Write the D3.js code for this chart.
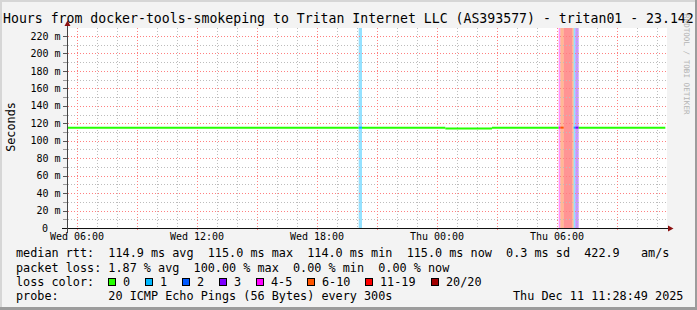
<!DOCTYPE html>
<html>
<head>
<meta charset="utf-8">
<script src="https://cdn.jsdelivr.net/npm/d3@7"></script>
<style>
  html, body { margin: 0; padding: 0; background: #f3f3f3; }
  svg { display: block; }
  text { font-family: "DejaVu Sans Mono", monospace; white-space: pre; }
</style>
</head>
<body>
<div id="chart"></div>
<script>
// Segments of the median rtt line (5 minute steps merged), times are local
const segStart  = ["2025-12-10T05:30", "2025-12-10T20:05", "2025-12-10T20:15", "2025-12-11T00:25", "2025-12-11T02:45",
                   "2025-12-11T06:05", "2025-12-11T06:10", "2025-12-11T06:20", "2025-12-11T06:45", "2025-12-11T06:50",
                   "2025-12-11T06:55", "2025-12-11T07:05"];
const segEnd    = ["2025-12-10T20:05", "2025-12-10T20:15", "2025-12-11T00:25", "2025-12-11T02:45", "2025-12-11T06:05",
                   "2025-12-11T06:10", "2025-12-11T06:20", "2025-12-11T06:45", "2025-12-11T06:50", "2025-12-11T06:55",
                   "2025-12-11T07:05", "2025-12-11T11:25"];
const segMedian = [115.0, 115.0, 115.0, 114.0, 115.0, 115.0, 115.0, null, null, 115.0, 115.0, 115.0];
const segLoss   = [0, 1, 0, 0, 0, 5, 8, 15, 8, 1, 3, 0];   // pings lost out of 20

// Loss colour classes
const lossLabels = ["0", "1", "2", "3", "4-5", "6-10", "11-19", "20/20"];
const lossMax    = [0, 1, 2, 3, 5, 10, 19, 20];
const lossColors = ["#26ff00", "#00b8ff", "#0059ff", "#7e00ff", "#ff00ff", "#ff5500", "#ff0000", "#a10000"];

const yTicks = [0, 20, 40, 60, 80, 100, 120, 140, 160, 180, 200, 220];

const titleText = "Hours from docker-tools-smokeping to Tritan Internet LLC (AS393577) - tritan01 - 23.142";
const rttRow   = "median rtt:  114.9 ms avg  115.0 ms max  114.0 ms min  115.0 ms now  0.3 ms sd  422.9   am/s";
const lossRow  = "packet loss: 1.87 % avg  100.00 % max  0.00 % min  0.00 % now";
const probeRow = "probe:       20 ICMP Echo Pings (56 Bytes) every 300s";
const dateText = "Thu Dec 11 11:28:49 2025";

const W = 697, H = 310;
const plot = {left: 67, right: 667, top: 28, bottom: 228};
const parse = d3.timeParse("%Y-%m-%dT%H:%M");

const segs = segStart.map((s, i) => ({
    start: parse(s), end: parse(segEnd[i]), median: segMedian[i], loss: segLoss[i]
}));

function lossColor(n) {
    const i = lossMax.findIndex(m => n <= m);
    return lossColors[i];
}

const x = d3.scaleTime()
    .domain([parse("2025-12-10T05:30"), parse("2025-12-11T11:30")])
    .range([plot.left, plot.right]);

const y = d3.scaleLinear()
    .domain([0, 229.17])
    .range([plot.bottom, plot.top]);

const svg = d3.select("#chart").append("svg")
    .attr("width", W)
    .attr("height", H);

// Frame
svg.append("rect").attr("width", W).attr("height", H).attr("fill", "#f3f3f3");
svg.append("path").attr("d", `M0,0H${W}V2H2V${H}H0Z`).attr("fill", "#d6d6d6");
svg.append("path").attr("d", `M${W},${H}H0V${H - 3}H${W - 2}V0H${W}Z`).attr("fill", "#9c9c9c");

// Plot canvas
svg.append("rect")
    .attr("x", plot.left).attr("y", plot.top)
    .attr("width", plot.right - plot.left).attr("height", plot.bottom - plot.top)
    .attr("fill", "#fff");

// Loss background bands
svg.append("g").selectAll("rect")
    .data(segs.filter(d => d.loss > 0))
    .join("rect")
    .attr("x", d => x(d.start))
    .attr("y", plot.top)
    .attr("width", d => x(d.end) - x(d.start))
    .attr("height", plot.bottom - plot.top)
    .attr("fill", d => lossColor(d.loss))
    .attr("opacity", 0.42);

// Grid
const grid = svg.append("g").attr("fill", "none").attr("stroke-dasharray", "1,2");
const minorY = d3.range(0, 230, 10).filter(v => v % 20 !== 0);
grid.selectAll(".hminor").data(minorY).join("line")
    .attr("x1", plot.left - 2).attr("x2", plot.right + 1)
    .attr("y1", d => Math.round(y(d)) + 0.5).attr("y2", d => Math.round(y(d)) + 0.5)
    .attr("stroke", "#bdbdbd");
grid.selectAll(".hmajor").data(yTicks.slice(1)).join("line")
    .attr("x1", plot.left - 2).attr("x2", plot.right + 1)
    .attr("y1", d => Math.round(y(d)) + 0.5).attr("y2", d => Math.round(y(d)) + 0.5)
    .attr("stroke", "#ff8080");

const hours = d3.timeHour.range(x.domain()[0], x.domain()[1]);
grid.selectAll(".vminor").data(hours.filter(d => d.getHours() % 3 !== 0)).join("line")
    .attr("x1", d => Math.round(x(d)) + 0.5).attr("x2", d => Math.round(x(d)) + 0.5)
    .attr("y1", plot.top).attr("y2", plot.bottom)
    .attr("stroke", "#bdbdbd");
grid.selectAll(".vmajor").data(hours.filter(d => d.getHours() % 3 === 0)).join("line")
    .attr("x1", d => Math.round(x(d)) + 0.5).attr("x2", d => Math.round(x(d)) + 0.5)
    .attr("y1", plot.top).attr("y2", plot.bottom + 3)
    .attr("stroke", "#ff8080");

// Median rtt line, coloured by loss
const line = d3.line().x(p => x(p[0])).y(p => y(p[1]));
svg.append("g").selectAll("path")
    .data(segs.filter(d => d.median !== null))
    .join("path")
    .attr("d", d => line([[d.start, d.median], [d.end, d.median]]))
    .attr("fill", "none")
    .attr("stroke", d => lossColor(d.loss))
    .attr("stroke-width", 2);

// Axes
const axisCol = "#111";
svg.append("g").selectAll("line").data(d3.range(0, 230, 10)).join("line")
    .attr("x1", plot.left - 4).attr("x2", plot.left)
    .attr("y1", d => Math.round(y(d)) + 0.5).attr("y2", d => Math.round(y(d)) + 0.5)
    .attr("stroke", d => d % 20 === 0 ? "#555" : "#999");
svg.append("line")
    .attr("x1", plot.left - 5).attr("x2", plot.right + 2)
    .attr("y1", plot.bottom + 0.5).attr("y2", plot.bottom + 0.5)
    .attr("stroke", axisCol);
svg.append("line")
    .attr("x1", plot.left + 0.5).attr("x2", plot.left + 0.5)
    .attr("y1", plot.bottom + 5).attr("y2", plot.top - 5)
    .attr("stroke", "#444");
svg.append("path")
    .attr("d", `M${plot.left + 0.5},20.5L${plot.left - 2.5},26L${plot.left + 3.5},26Z`)
    .attr("fill", "#8b1010");
svg.append("path")
    .attr("d", `M673.5,${plot.bottom + 0.5}L668,${plot.bottom - 2.5}L668,${plot.bottom + 3.5}Z`)
    .attr("fill", "#8b1010");

// Y tick labels
svg.append("g").selectAll("text").data(yTicks).join("text")
    .attr("x", d => d === 0 ? 48 : 60.5)
    .attr("y", d => y(d) + 3.6)
    .attr("text-anchor", "end")
    .attr("font-size", "10px")
    .attr("fill", "#000")
    .text(d => d === 0 ? "0" : `${d} m`);

// X tick labels
const fmt = d3.timeFormat("%a %H:%M");
svg.append("g").selectAll("text")
    .data(x.ticks(d3.timeHour.every(6)))
    .join("text")
    .attr("x", d => x(d))
    .attr("y", 240)
    .attr("text-anchor", "middle")
    .attr("font-size", "10px")
    .attr("fill", "#000")
    .text(d => fmt(d));

// Y axis title
svg.append("text")
    .attr("transform", "translate(14.5,127) rotate(-90)")
    .attr("text-anchor", "middle")
    .attr("font-size", "11.8px")
    .text("Seconds");

// Chart title
svg.append("text")
    .attr("x", 3)
    .attr("y", 23)
    .attr("font-size", "13.2px")
    .text(titleText);

// Watermark
svg.append("text")
    .attr("transform", "translate(683.5,14) rotate(90)")
    .attr("font-size", "7.6px")
    .attr("fill", "#b4b4b4")
    .text("RRDTOOL / TOBI OETIKER");

// Legend rows
const cw = 7.1, lx = 16, fs = "11.8px";
[[rttRow, 257], [lossRow, 271.5], ["loss color:", 285.7], [probeRow, 300]].forEach(([t, yy]) => {
    svg.append("text").attr("x", lx).attr("y", yy).attr("font-size", fs).text(t);
});
svg.append("text").attr("x", lx + 70 * cw).attr("y", 300).attr("font-size", fs).text(dateText);

let col = 13;
const items = lossLabels.map((lab, i) => {
    const it = {label: lab, color: lossColors[i], col: col};
    col += lab.length + 4.2;
    return it;
});
const leg = svg.append("g").selectAll("g").data(items).join("g")
    .attr("transform", d => `translate(${Math.round(lx + d.col * cw)},278)`);
leg.append("rect")
    .attr("x", 0.5).attr("y", 0.5)
    .attr("width", 7).attr("height", 7)
    .attr("fill", d => d.color)
    .attr("stroke", "#000");
leg.append("text")
    .attr("x", 15)
    .attr("y", 7.7)
    .attr("font-size", fs)
    .text(d => d.label);
</script>
</body>
</html>
